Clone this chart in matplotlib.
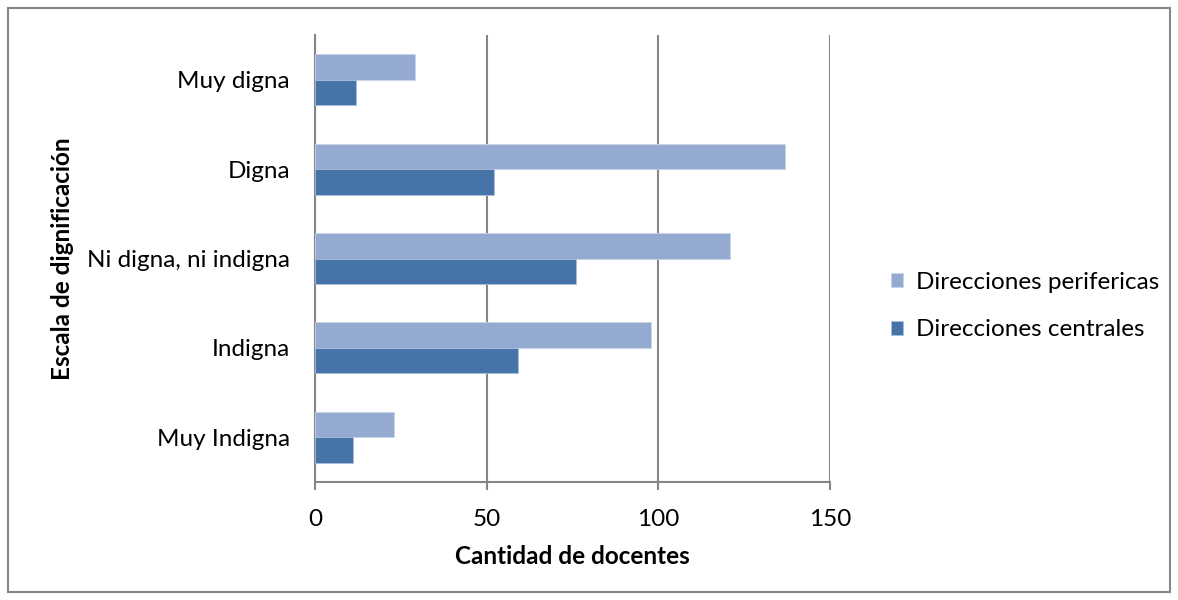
import numpy as np
import matplotlib.pyplot as plt
from matplotlib.patches import Rectangle

# Escala de dignificación por tipo de dirección
categorias = ['Muy Indigna', 'Indigna', 'Ni digna, ni indigna', 'Digna', 'Muy digna']
perifericas = [23, 98, 121, 137, 29]
centrales = [11, 59, 76, 52, 12]

plt.rcParams['font.family'] = ['Lato', 'DejaVu Sans']
fs = 17.5

fig = plt.figure(figsize=(11.78, 6.0), dpi=100)
ax = fig.add_axes([315 / 1178, 1 - 482 / 600, 515 / 1178, 447 / 600])

y = np.arange(len(categorias))
h = 0.286
ax.barh(y + h / 2, perifericas, height=h, color='#95AAD0', edgecolor='#C9D5EA',
        linewidth=0.6, label='Direcciones perifericas', zorder=3)
ax.barh(y - h / 2, centrales, height=h, color='#4674A8', edgecolor='#A9BEDC',
        linewidth=0.6, label='Direcciones centrales', zorder=3)

ax.set_xlim(0, 150)
ax.set_ylim(-0.5, len(categorias) - 0.5)
ax.set_xticks([0, 50, 100, 150])
ax.set_yticks(y)
ax.set_yticklabels(categorias)

ax.grid(axis='x', color='#868686', linewidth=1.5, zorder=0)
for s in ['top', 'right']:
    ax.spines[s].set_visible(False)
for s in ['left', 'bottom']:
    ax.spines[s].set_color('#868686')
    ax.spines[s].set_linewidth(1.5)

ax.tick_params(axis='x', length=6, width=1.5, color='#868686', labelsize=fs, pad=13.5)
ax.tick_params(axis='y', length=0, labelsize=fs, pad=18)

ax.set_xlabel('Cantidad de docentes', fontsize=fs, fontweight='bold', labelpad=11)
ax.set_ylabel('Escala de dignificación', fontsize=fs, fontweight='bold')
ax.yaxis.set_label_coords(-241 / 515, 0.5)

ax.legend(loc='center left', bbox_to_anchor=(869 / 1178, 1 - 306 / 600),
          bbox_transform=fig.transFigure, frameon=False, fontsize=fs,
          handlelength=0.5, handleheight=0.5, handletextpad=0.53, labelspacing=1.1)

fig.patches.append(Rectangle((8 / 1178, 8 / 600), 1162 / 1178, 584 / 600,
                             transform=fig.transFigure, fill=False,
                             edgecolor='#868686', linewidth=1.5))

fig.savefig('out.png', dpi=100)
